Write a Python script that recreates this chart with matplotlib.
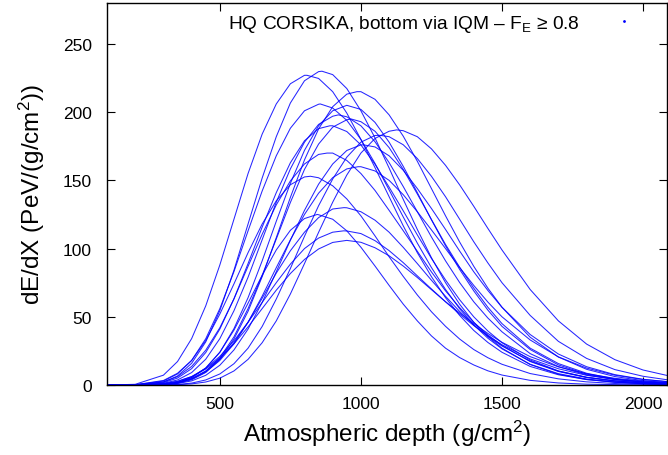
import matplotlib
matplotlib.use("Agg")
import matplotlib.pyplot as plt
from matplotlib.lines import Line2D

plt.rcParams['font.family'] = ['Liberation Sans', 'DejaVu Sans']
plt.rcParams['mathtext.fontset'] = 'custom'
plt.rcParams['mathtext.rm'] = 'Liberation Sans'
plt.rcParams['mathtext.it'] = 'Liberation Sans:italic'

# Atmospheric depth grid (g/cm^2)
depth = [100, 200, 300, 350, 400, 450, 500, 550, 600, 650, 700, 750, 800, 850,
         900, 950, 1000, 1050, 1100, 1150, 1200, 1250, 1300, 1350, 1400, 1450,
         1500, 1600, 1700, 1800, 1900, 2000, 2100]

# dE/dX profiles (PeV/(g/cm^2)) of the individual showers
shower_01 = [0, 0.1, 2.2, 6.6, 15.9, 31.6, 54.5, 84.1, 118, 151.7, 182, 206.7, 223, 229.7,
             227.5, 217.3, 201, 181.1, 159, 136.1, 114, 93.3, 75, 59.2, 46, 35.5,
             27, 15, 7.9, 4.0, 2.0, 0.9, 0.4]
shower_02 = [0, 0.5, 7.2, 17.2, 34, 58.0, 88, 121.5, 155, 183.9, 206, 220.8, 227, 224.7,
             215, 199.3, 180, 159.3, 138, 116.7, 97, 79.4, 64, 51.0, 40, 31.2,
             24, 13.6, 7.5, 4.0, 2.1, 1.0, 0.5]
shower_03 = [0, 0, 0.3, 1.2, 3.8, 9.2, 18.8, 33.7, 54, 79.4, 108, 137.5, 165, 187.7,
             204, 213.2, 215, 209.4, 198, 182.4, 164, 144.0, 124, 104.8, 87, 71.0,
             57, 35, 20.5, 11.5, 6.2, 3.2, 1.6]
shower_04 = [0, 0.1, 2.9, 8.1, 18, 33.9, 56, 83.1, 113, 142.2, 168, 188.2, 201, 205.8,
             203, 194.0, 180, 162.4, 143, 123.2, 104, 86.1, 70, 55.9, 44, 34.3,
             26.5, 15.2, 8.3, 4.4, 2.2, 1.1, 0.5]
shower_05 = [0, 0, 0.5, 1.9, 5.4, 12.3, 24, 41.3, 64, 91.0, 120, 147.8, 172, 190.0,
             201, 205.0, 202, 192.5, 178, 160.3, 141, 121.1, 102, 84.7, 69, 54.9,
             43, 26, 14.7, 8.0, 4.2, 2.1, 1.0]
shower_06 = [0, 0, 1.2, 3.7, 9.1, 18.9, 34, 54.4, 79, 106.5, 134, 158.4, 178, 191.0,
             197, 196.6, 190, 178.3, 163, 145.5, 127, 108.5, 91, 75.1, 61, 49.1,
             39, 23, 13.5, 7.4, 4.0, 2.1, 1.0]
shower_07 = [0, 0, 0.4, 1.5, 4.3, 10.0, 20, 35.3, 56, 80.4, 107, 133.8, 158, 176.6,
             189, 194.4, 193, 186.0, 174, 158.0, 140, 121.3, 103, 86.3, 71, 57.0,
             45, 27, 15.7, 8.6, 4.5, 2.3, 1.1]
shower_08 = [0, 0.1, 1.7, 5.1, 12, 23.8, 41, 63.2, 89, 115.7, 141, 162.9, 179, 187.9,
             190, 185.8, 176, 161.8, 145, 127.7, 110, 92.8, 77, 62.5, 50, 39.6,
             31, 18.3, 10.3, 5.6, 2.9, 1.5, 0.7]
shower_09 = [0, 0, 0.05, 0.2, 0.8, 2.2, 5.0, 10.3, 18.8, 31.0, 47, 66.7, 89, 111.9,
             134, 153.9, 170, 180.7, 186, 186.4, 182, 173.1, 161, 146.7, 131, 114.8,
             99, 70, 47, 30, 18.6, 11.0, 6.3]
shower_10 = [0, 0, 0.1, 0.4, 1.4, 3.7, 8.1, 15.6, 27, 42.9, 63, 85.4, 109, 131.4,
             151, 167.0, 178, 182.9, 182, 176.1, 166, 153.0, 138, 121.5, 105, 89.5,
             75, 51, 32, 19.5, 11.3, 6.4, 3.4]
shower_11 = [0, 0, 0.3, 1.1, 3.0, 7.1, 14.5, 25.7, 41, 60.5, 83, 106.1, 128, 147.2,
             162, 171.9, 176, 174.5, 168, 157.4, 144, 129.4, 114, 98.2, 83, 69.3,
             57, 37, 22.7, 13.4, 7.6, 4.2, 2.2]
shower_12 = [0, 0.1, 2.2, 6.1, 13.6, 25.5, 42, 63.1, 87, 110.5, 132, 149.6, 162, 169.0,
             170, 164.6, 155, 142.6, 128, 113.1, 98, 82.9, 69, 56.7, 46, 36.7,
             29, 17.2, 9.9, 5.5, 3.0, 1.5, 0.8]
shower_13 = [0, 0, 0.5, 1.7, 4.4, 9.5, 18, 30.2, 46, 65.1, 86, 106.4, 125, 140.6,
             152, 158.4, 160, 156.9, 150, 139.5, 127, 113.7, 100, 86.1, 73, 60.8,
             50, 33, 20.6, 12.4, 7.2, 4.0, 2.2]
shower_14 = [0, 0.2, 3.3, 8.6, 18, 32.6, 52, 74.1, 97, 118.0, 135, 146.8, 152.5, 151.9,
             146, 136.4, 124, 109.3, 94, 79.6, 66, 53.7, 43, 33.7, 26, 20.0,
             15.2, 8.4, 4.5, 2.3, 1.1, 0.6, 0.3]
shower_15 = [0, 0, 0.6, 1.9, 4.8, 10.3, 19, 31.1, 46, 63.6, 82, 98.4, 112, 122.7,
             129, 129.9, 127, 120.8, 112, 100.9, 89, 76.8, 65, 53.9, 44, 35.7,
             28.6, 17.5, 10.2, 5.7, 3.1, 1.6, 0.8]
shower_16 = [0, 0, 0.5, 1.9, 5.5, 12.5, 24, 40.2, 60, 80.4, 99, 113.4, 122, 124.8,
             121.5, 113.0, 101, 87.2, 73, 59.3, 47, 36.0, 27, 20.1, 14.7, 10.4,
             7.3, 3.4, 1.5, 0.6, 0.3, 0.1, 0]
shower_17 = [0, 0, 0.9, 2.6, 6.2, 12.2, 21, 32.4, 46, 60.5, 75, 88.6, 100, 107.7,
             112, 112.9, 111, 105.8, 98.5, 89.7, 80, 70.4, 61, 51.9, 43.6, 36.1,
             29.5, 19.1, 11.9, 7.1, 4.1, 2.3, 1.3]
shower_18 = [0, 0, 1.0, 2.7, 6.1, 11.7, 19.7, 30.2, 42.6, 56.0, 69.5, 81.7, 92, 99.7,
             104.5, 106.0, 104.6, 100.6, 94.7, 87.2, 78.8, 69.9, 61, 52.8, 45, 37.8,
             31.3, 20.8, 13.3, 8.2, 4.9, 2.9, 1.6]

# shower maxima (depth, value)
peak_depth = [862, 809, 986, 856, 950, 920, 965, 890, 1127, 1068, 1010, 880, 990, 821, 940, 845, 939, 950]
peak_value = [230, 227, 215, 206, 205, 198, 195, 190, 187, 183, 176, 170, 160, 153, 130, 125, 113, 106]

showers = [shower_01, shower_02, shower_03, shower_04, shower_05, shower_06,
           shower_07, shower_08, shower_09, shower_10, shower_11, shower_12,
           shower_13, shower_14, shower_15, shower_16, shower_17, shower_18]

legend_label = r'HQ CORSIKA, bottom via IQM – F$_\mathrm{E}$ ≥ 0.8'
x_label = r'Atmospheric depth (g/cm$^2$)'
y_label = r'dE/dX (PeV/(g/cm$^2$))'

fig = plt.figure(figsize=(6.68, 4.56), dpi=100)
ax = fig.add_axes([107 / 668, 70 / 456, (667 - 107) / 668, (386 - 4) / 456])

blue = '#0000ff'
for vals, px, pv in zip(showers, peak_depth, peak_value):
    pts = dict(zip(depth, vals))
    pts[px] = pv
    xs = sorted(pts)
    ys = [pts[k] for k in xs]
    ax.plot(xs, ys, color=blue, lw=0.75, alpha=0.85, solid_joinstyle='round')

ax.set_xlim(100, 2085)
ax.set_ylim(0, 280)
ax.set_xticks([500, 1000, 1500, 2000])
ax.set_yticks([0, 50, 100, 150, 200, 250])
ax.tick_params(direction='in', length=6, width=0.8, top=True, right=True,
               labelsize=12.5)
ax.tick_params(axis='x', pad=8)
ax.tick_params(axis='y', pad=11)
for s in ax.spines.values():
    s.set_linewidth(1.0)

ax.set_xlabel(x_label, fontsize=17.5, labelpad=5)
ax.set_ylabel(y_label, fontsize=17.5, labelpad=11)

proxy = Line2D([], [], color=blue, marker='.', markersize=2, linestyle='none')
ax.legend(handles=[proxy], labels=[legend_label], loc='upper right',
          bbox_to_anchor=(1.006, 1.02), frameon=False, markerfirst=False,
          fontsize=13.8, handlelength=3.0, handletextpad=0.8)

fig.savefig('out.png', dpi=100)
